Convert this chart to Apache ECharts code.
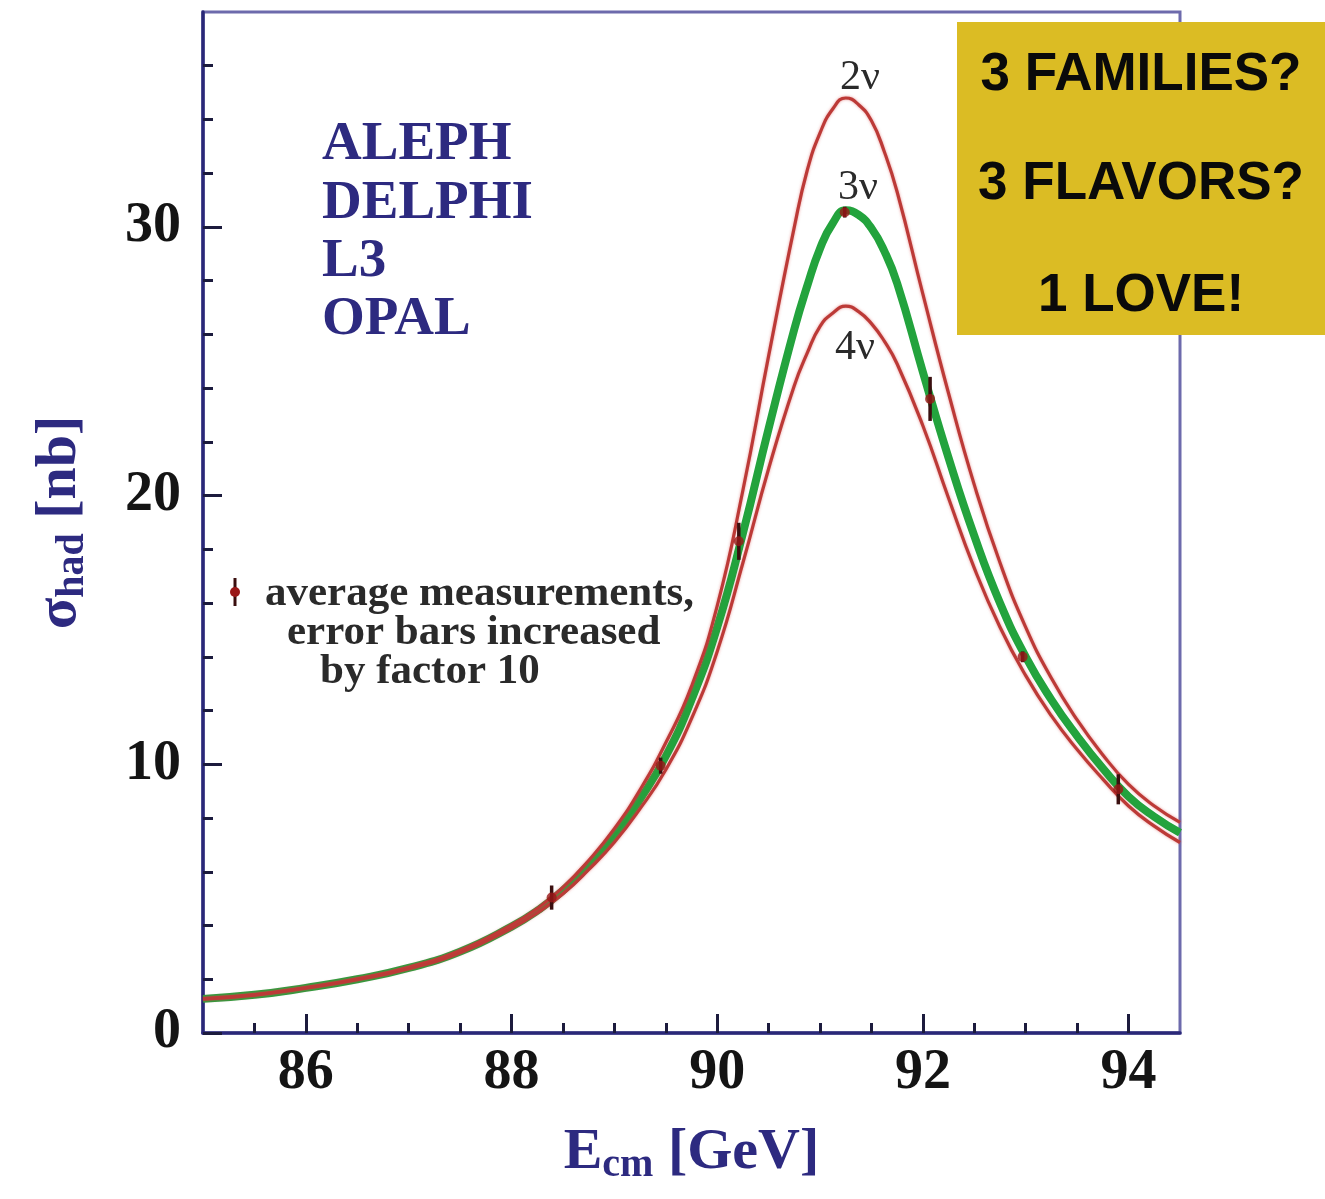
<!DOCTYPE html>
<html>
<head>
<meta charset="utf-8">
<script src="https://cdn.jsdelivr.net/npm/echarts@6/dist/echarts.min.js"></script>
<style>
html,body{margin:0;padding:0;background:#fff;}
#chart{width:1325px;height:1199px;}
</style>
</head>
<body>
<div id="chart"></div>
<script>
// Centre-of-mass energy grid [GeV]
const energies = [85, 85.5, 86, 86.5, 87, 87.5, 88, 88.25, 88.5, 88.75, 89, 89.25, 89.5, 89.75, 90, 90.25, 90.5, 90.75, 90.875, 91, 91.125, 91.25, 91.375, 91.5, 91.625, 91.75, 92, 92.25, 92.5, 92.75, 93, 93.25, 93.5, 93.75, 94, 94.25, 94.5];
// Hadronic cross section [nb] for 2, 3, 4 neutrino families
const sigma2nu = [1.28, 1.43, 1.69, 2.02, 2.45, 3.07, 4.02, 4.63, 5.42, 6.42, 7.6, 9.05, 10.8, 12.9, 15.9, 20.2, 25.2, 30.0, 32.1, 33.5, 34.4, 34.8, 34.55, 33.95, 32.8, 31.3, 27.5, 23.8, 20.4, 17.5, 15.1, 13.2, 11.65, 10.35, 9.25, 8.45, 7.84];
const sigma3nu = [1.27, 1.42, 1.68, 2.0, 2.42, 3.03, 3.96, 4.55, 5.3, 6.25, 7.35, 8.7, 10.3, 12.4, 15.1, 18.6, 22.5, 26.2, 27.8, 29.2, 30.15, 30.62, 30.45, 29.95, 29.1, 27.9, 24.6, 21.4, 18.5, 16.0, 14.0, 12.4, 11.05, 9.85, 8.8, 8.05, 7.45];
const sigma4nu = [1.26, 1.41, 1.67, 1.98, 2.39, 2.99, 3.9, 4.47, 5.18, 6.08, 7.1, 8.35, 9.8, 11.7, 14.2, 17.5, 21.0, 24.1, 25.3, 26.3, 26.8, 27.05, 26.85, 26.4, 25.75, 24.9, 22.6, 19.9, 17.3, 15.1, 13.3, 11.8, 10.55, 9.45, 8.45, 7.7, 7.09];
// Average measurements with (x10) error bars
const measE = [88.39, 89.45, 90.21, 91.24, 92.07, 92.97, 93.90];
const measSigma = [5.04, 9.95, 18.3, 30.55, 23.6, 14.0, 9.07];
const measErr = [0.45, 0.3, 0.69, 0.2, 0.82, 0.2, 0.56];
// Tick values
const xMajorTicks = [86, 88, 90, 92, 94];
const xMinorTicks = [85.5, 86.5, 87, 87.5, 88.5, 89, 89.5, 90.5, 91, 91.5, 92.5, 93, 93.5];
const yMajorTicks = [0, 10, 20, 30];
const yMinorTicks = [2, 4, 6, 8, 12, 14, 16, 18, 22, 24, 26, 28, 32, 34, 36];
const curveLabels = ['2ν', '3ν', '4ν'];
const experiments = ['ALEPH', 'DELPHI', 'L3', 'OPAL'];
const noteLines = ['average measurements,', 'error bars increased', 'by factor 10'];
const boxLines = ['3 FAMILIES?', '3 FLAVORS?', '1 LOVE!'];

const NAVY = '#2d2a80';
const SERIF = 'Liberation Serif';
const pairs = (ys) => energies.map((e, i) => [e, ys[i]]);

const nameRich = {
  m: {fontFamily: SERIF, fontWeight: 'bold', fontSize: 58, color: NAVY, lineHeight: 58},
  s: {fontFamily: SERIF, fontWeight: 'bold', fontSize: 40, color: NAVY, lineHeight: 40, padding: [26, 0, 0, 0]}
};

const tickStyle = {color: '#1c1b3d', width: 3};
const labelStyle = {fontFamily: SERIF, fontWeight: 'bold', fontSize: 56, color: '#141414'};
const redLine = {color: '#bc3a37', width: 3.2, shadowColor: 'rgba(215,70,70,0.55)', shadowBlur: 3};

const chart = echarts.init(document.getElementById('chart'), null, {renderer: 'canvas'});

const graphics = [];
graphics.push({type: 'rect', z: 100, shape: {x: 957, y: 22, width: 368, height: 313}, style: {fill: '#dbbc24'}});
const boxY = [75, 184, 296];
boxLines.forEach((t, i) => graphics.push({type: 'text', z: 101, style: {text: t, x: 1141, y: boxY[i], fill: '#0a0a0a', fontFamily: 'Liberation Sans', fontWeight: 'bold', fontSize: 53, align: 'center', verticalAlign: 'middle'}}));
const expY = [145, 204, 262, 320];
experiments.forEach((t, i) => graphics.push({type: 'text', z: 50, style: {text: t, x: 322, y: expY[i], fill: NAVY, fontFamily: SERIF, fontWeight: 'bold', fontSize: 55, align: 'left', verticalAlign: 'middle'}}));
const nuPos = [[860, 78], [858, 188], [855, 348]];
curveLabels.forEach((t, i) => graphics.push({type: 'text', z: 50, style: {text: t, x: nuPos[i][0], y: nuPos[i][1], fill: '#2a2a2a', fontFamily: SERIF, fontSize: 42, align: 'center', verticalAlign: 'middle'}}));
const noteX = [265, 287, 320];
const noteY = [594, 633, 672];
noteLines.forEach((t, i) => graphics.push({type: 'text', z: 50, style: {text: t, x: noteX[i], y: noteY[i], fill: '#2a2a2a', fontFamily: SERIF, fontWeight: 'bold', fontSize: 43, align: 'left', verticalAlign: 'middle'}}));
graphics.push({type: 'line', z: 50, shape: {x1: 235, y1: 578, x2: 235, y2: 606}, style: {stroke: '#3a0f0f', lineWidth: 3}});
graphics.push({type: 'circle', z: 51, shape: {cx: 235, cy: 592, r: 5}, style: {fill: '#9a1818'}});

const option = {
  backgroundColor: '#ffffff',
  animation: false,
  grid: {left: 203, top: 12, width: 977, height: 1021, show: true, borderColor: '#6d6aac', borderWidth: 3, backgroundColor: 'transparent', outerBoundsMode: 'none'},
  xAxis: [
    {
      type: 'value', min: 85, max: 94.5, position: 'bottom',
      axisLine: {show: true, onZero: false, lineStyle: {color: '#2a2878', width: 3.5}},
      axisTick: {show: true, inside: true, length: 19, lineStyle: tickStyle, customValues: xMajorTicks},
      axisLabel: Object.assign({customValues: xMajorTicks, margin: 13}, labelStyle),
      splitLine: {show: false},
      name: '{m|E}{s|cm}{m| [GeV]}', nameLocation: 'middle', nameGap: 91,
      nameTextStyle: {rich: nameRich}
    },
    {
      type: 'value', min: 85, max: 94.5, position: 'bottom',
      axisLine: {show: false},
      axisTick: {show: true, inside: true, length: 10, lineStyle: tickStyle, customValues: xMinorTicks},
      axisLabel: {show: false},
      splitLine: {show: false}
    }
  ],
  yAxis: [
    {
      type: 'value', min: 0, max: 38, position: 'left',
      axisLine: {show: true, onZero: false, lineStyle: {color: '#2a2878', width: 3.5}},
      axisTick: {show: true, inside: true, length: 19, lineStyle: tickStyle, customValues: yMajorTicks},
      axisLabel: Object.assign({customValues: yMajorTicks, margin: 22}, labelStyle),
      splitLine: {show: false},
      name: '{m|σ}{s|had}{m| [nb]}', nameLocation: 'middle', nameGap: 114, nameRotate: 90,
      nameTextStyle: {rich: nameRich}
    },
    {
      type: 'value', min: 0, max: 38, position: 'left',
      axisLine: {show: false},
      axisTick: {show: true, inside: true, length: 10, lineStyle: tickStyle, customValues: yMinorTicks},
      axisLabel: {show: false},
      splitLine: {show: false}
    }
  ],
  series: [
    {type: 'line', name: '3ν', data: pairs(sigma3nu), smooth: 0.5, showSymbol: false, z: 2,
     lineStyle: {color: '#23a33d', width: 8}},
    {type: 'line', name: '2ν', data: pairs(sigma2nu), smooth: 0.5, showSymbol: false, z: 3,
     lineStyle: redLine},
    {type: 'line', name: '4ν', data: pairs(sigma4nu), smooth: 0.5, showSymbol: false, z: 3,
     lineStyle: redLine},
    {type: 'custom', name: 'errors', z: 4,
     data: measE.map((e, i) => [e, measSigma[i], measErr[i]]),
     renderItem: (params, api) => {
       const x = api.value(0), y = api.value(1), err = api.value(2);
       const p1 = api.coord([x, y - err]);
       const p2 = api.coord([x, y + err]);
       return {type: 'line', shape: {x1: p1[0], y1: p1[1], x2: p2[0], y2: p2[1]}, style: {stroke: '#3a0f0f', lineWidth: 3.5}};
     }},
    {type: 'scatter', name: 'measurements', z: 5, symbolSize: 10,
     data: measE.map((e, i) => [e, measSigma[i]]),
     itemStyle: {color: '#9a1818'}}
  ],
  graphic: graphics
};
chart.setOption(option);
</script>
</body>
</html>
